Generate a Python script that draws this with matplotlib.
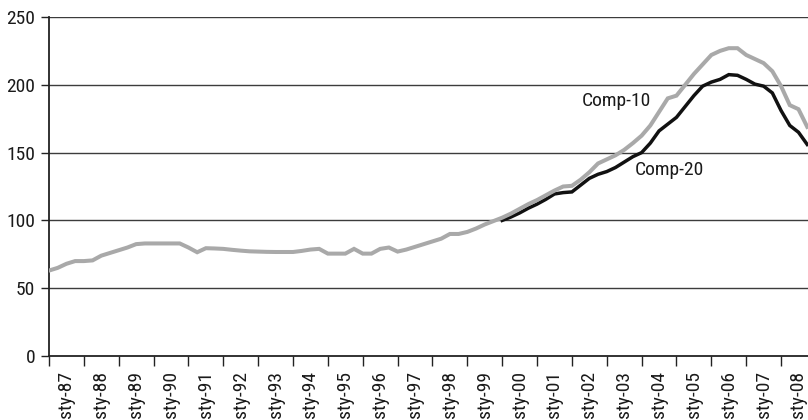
import numpy as np
import matplotlib
matplotlib.use("Agg")
from matplotlib import pyplot as plt
from matplotlib.ticker import FixedLocator, NullFormatter, FixedFormatter

# condensed look of the original; falls back to Liberation Sans
plt.rcParams['font.family'] = ['Liberation Sans Narrow', 'Roboto Condensed', 'Liberation Sans', 'DejaVu Sans']

# quarterly index values (Comp-10 from Q1 1987, Comp-20 from Q1 2000)
comp10_start = 1987
comp10 = [63, 65, 68, 70, 70, 70.5, 74, 76, 78, 80, 82.5, 83,
          83, 83, 83, 83, 80, 76.5, 79.5, 79.3, 79, 78.3, 77.7, 77.2,
          77, 76.8, 76.7, 76.7, 76.7, 77.5, 78.5, 79, 75.5, 75.5, 75.5, 79,
          75.5, 75.5, 79, 80, 77, 78.5, 80.5, 82.5, 84.5, 86.5, 90, 90,
          91.5, 94, 97, 99.5, 102, 105, 108.5, 112, 115, 118.5, 122, 125,
          125.5, 130, 135.5, 142, 145, 148, 152, 157, 162.5, 170, 180, 190,
          192, 200, 208, 215, 222, 225, 227, 227, 222, 219, 216, 210,
          199, 185, 182, 169]

comp20_start = 2000
comp20 = [100, 102.5, 105.5, 109, 112, 115.5, 119.5, 120.5,
          121, 126, 131, 134, 136, 139, 143, 147,
          150, 157, 166, 171, 176, 184, 192, 199,
          202, 204, 207.5, 207, 204, 200.5, 199, 194,
          181, 170, 165, 156]

years = list(range(1987, 2009))
year_labels = ["sty-%02d" % (y % 100) for y in years]
y_ticks = [0, 50, 100, 150, 200, 250]

x10 = comp10_start + np.arange(len(comp10)) / 4.0
x20 = comp20_start + np.arange(len(comp20)) / 4.0

fig = plt.figure(figsize=(8.08, 4.2), dpi=100)
ax = fig.add_axes([49 / 808, 1 - 356 / 420, 1 - 49 / 808, (356 - 17) / 420])

for v in y_ticks[1:]:
    ax.axhline(v, color='#3c3c3c', lw=1.0, zorder=1)

ax.plot(x10, comp10, color='#a9a9a9', lw=2.9, zorder=3, solid_joinstyle='miter')
ax.plot(x20, comp20, color='#111111', lw=2.5, zorder=2, solid_joinstyle='miter')

ax.set_xlim(1987, 1987 + (808 - 49) / 34.86)
ax.set_ylim(0, 250)

for s in ['top', 'right']:
    ax.spines[s].set_visible(False)
ax.spines['left'].set_color('#222222')
ax.spines['left'].set_linewidth(1.3)
ax.spines['bottom'].set_color('#222222')
ax.spines['bottom'].set_linewidth(1.3)

ax.set_yticks(y_ticks)
ax.tick_params(axis='y', length=6, width=1.0, color='#222222', pad=4,
               labelsize=14, labelcolor='#1a1a1a')

ax.xaxis.set_major_locator(FixedLocator(years))
ax.xaxis.set_major_formatter(NullFormatter())
ax.xaxis.set_minor_locator(FixedLocator([y + 0.5 for y in years]))
ax.xaxis.set_minor_formatter(FixedFormatter(year_labels))
ax.tick_params(axis='x', which='major', length=7, width=1.0, color='#222222')
ax.tick_params(axis='x', which='minor', length=0, pad=11, labelsize=14,
               labelrotation=90, labelcolor='#1a1a1a')

ax.text(2003.27, 188, "Comp-10", fontsize=14, ha='center', va='center', color='#1a1a1a')
ax.text(2004.81, 137.2, "Comp-20", fontsize=14, ha='center', va='center', color='#1a1a1a')

fig.savefig("out.png", dpi=100)
